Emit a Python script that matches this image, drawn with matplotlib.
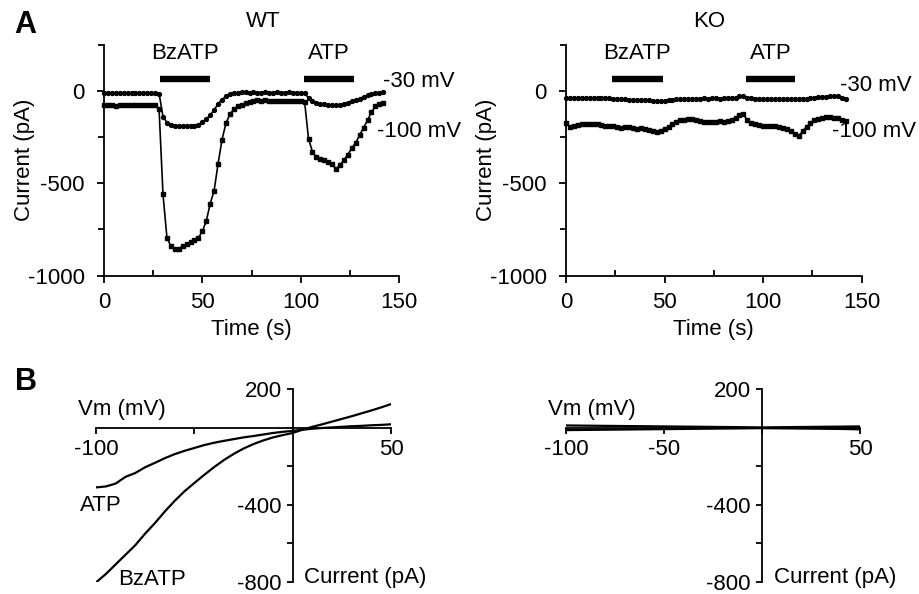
import numpy as np
import matplotlib
matplotlib.use("Agg")
import matplotlib.pyplot as plt
from matplotlib.ticker import MultipleLocator, FixedLocator

plt.rcParams['font.family'] = ['Liberation Sans', 'DejaVu Sans']
plt.rcParams['font.size'] = 16
plt.rcParams['axes.unicode_minus'] = False

# ---- panel A: current vs time (sampled every 2 s) ----
time_s = np.arange(0, 144, 2)

wt_30 = [-12, -12, -12, -12, -12, -12, -12, -12, -12, -12,
         -12, -12, -12, -12, -15, -140, -172, -185, -190, -190,
         -190, -188, -189, -188, -185, -170, -155, -130, -105, -70,
         -48, -30, -20, -14, -10, -9, -9, -10, -9, -10,
         -10, -9, -10, -10, -9, -10, -10, -9, -10, -10,
         -10, -12, -40, -55, -65, -70, -73, -76, -78, -78,
         -76, -72, -66, -58, -50, -42, -33, -25, -18, -14,
         -10, -8]
wt_100 = [-75, -78, -76, -80, -78, -76, -79, -77, -78, -76,
          -78, -76, -78, -76, -100, -560, -795, -840, -858, -855,
          -840, -828, -818, -805, -795, -760, -705, -610, -540, -395,
          -265, -176, -128, -100, -84, -75, -65, -60, -55, -52,
          -55, -52, -56, -54, -55, -56, -53, -55, -57, -54,
          -56, -60, -260, -330, -360, -368, -375, -385, -395, -425,
          -400, -375, -345, -310, -280, -240, -200, -160, -115, -85,
          -72, -68]
ko_30 = [-38, -37, -39, -38, -38, -37, -39, -38, -37, -38,
         -38, -40, -42, -44, -46, -47, -48, -49, -50, -50,
         -51, -52, -55, -57, -58, -56, -52, -48, -45, -44,
         -44, -43, -44, -42, -43, -41, -42, -41, -41, -42,
         -41, -40, -39, -37, -30, -30, -37, -41, -42, -43,
         -44, -45, -46, -45, -46, -47, -46, -45, -46, -47,
         -45, -43, -40, -38, -35, -33, -32, -30, -29, -30,
         -38, -42]
ko_100 = [-176, -194, -188, -185, -182, -180, -178, -182, -180, -184,
          -188, -190, -192, -196, -200, -194, -196, -200, -205, -203,
          -205, -210, -220, -222, -215, -205, -194, -180, -170, -160,
          -158, -155, -153, -160, -165, -167, -170, -168, -167, -165,
          -167, -165, -158, -145, -131, -128, -160, -175, -182, -185,
          -188, -190, -189, -192, -195, -200, -205, -215, -232, -245,
          -220, -195, -175, -160, -155, -150, -140, -142, -145, -148,
          -160, -165]

# drug application bars (start, end) in s
wt_bars = {'BzATP': (28.5, 53.9), 'ATP': (101.7, 127.0)}
ko_bars = {'BzATP': (23.2, 49.0), 'ATP': (91.3, 116.4)}

# ---- panel B: I-V relations ----
vm_wt = np.arange(-100, 55, 5)
wt_atp_iv = [-310, -305, -290, -255, -235, -205, -182, -158, -137, -120, -105,
             -90, -78, -68, -59, -50, -43, -35, -27, -21, -16,
             -10, -5, -1, 2, 5, 8, 10, 13, 15, 18]
wt_bz_iv = [-804, -760, -710, -660, -610, -550, -495, -435, -380, -330, -287,
            -245, -205, -168, -136, -108, -85, -66, -50, -38, -27,
            -10, 5, 18, 32, 46, 60, 75, 90, 106, 123]
vm_ko = np.arange(-100, 60, 10)
ko_atp_iv = [12, 11, 10, 9, 8, 7, 6, 5, 4, 3, 2, 3, 4, 5, 6, 7]
ko_bz_iv = [-12, -11, -10, -9, -8, -7, -6, -5, -4, -3, -2, -3, -4, -5, -6, -8]

W, H = 919, 594
fig = plt.figure(figsize=(W / 100, H / 100), dpi=100)


def px_axes(x0, x1, ytop, ybot):
    return fig.add_axes([x0 / W, 1 - ybot / H, (x1 - x0) / W, (ybot - ytop) / H])


def time_panel(ax, i30, i100, bars, title, title_x, lab30, lab100):
    ax.plot(time_s, i30, color='black', lw=1.2, marker='o', ms=2.8, clip_on=False)
    ax.plot(time_s, i100, color='black', lw=1.2, marker='s', ms=3.0, clip_on=False)
    for name, (t0, t1) in bars.items():
        ax.plot([t0, t1], [63, 63], color='black', lw=4.6, solid_capstyle='butt', clip_on=False)
        ax.text((t0 + t1) / 2, 202, name, ha='center', va='center', clip_on=False)
    ax.text(lab30[0], lab30[1], '-30 mV', ha='left', va='center', clip_on=False)
    ax.text(lab100[0], lab100[1], '-100 mV', ha='left', va='center', clip_on=False)
    ax.text(title_x, 375, title, ha='center', va='center', clip_on=False)
    ax.set_xlim(0, 150)
    ax.set_ylim(-1000, 250)
    ax.xaxis.set_major_locator(MultipleLocator(50))
    ax.xaxis.set_minor_locator(MultipleLocator(25))
    ax.set_yticks([0, -500, -1000])
    ax.yaxis.set_minor_locator(FixedLocator([250, -250, -750]))
    for s in ['top', 'right']:
        ax.spines[s].set_visible(False)
    for s in ['left', 'bottom']:
        ax.spines[s].set_linewidth(1.3)
    ax.tick_params(which='major', length=5, width=1.3)
    ax.tick_params(axis='y', which='major', pad=9)
    ax.tick_params(axis='x', which='major', pad=7)
    ax.tick_params(axis='x', which='minor', direction='in', length=4, width=1.3)
    ax.tick_params(axis='y', which='minor', length=4, width=1.3)
    ax.set_xlabel('Time (s)', labelpad=4)
    ax.set_ylabel('Current (pA)')
    ax.yaxis.set_label_coords(-0.235, 0.5)


def iv_panel(ax, vm, atp, bz, xlabels):
    ax.plot(vm, atp, color='black', lw=1.6)
    ax.plot(vm, bz, color='black', lw=1.6)
    ax.set_xlim(-100, 50)
    ax.set_ylim(-800, 200)
    ax.spines['left'].set_position(('data', 0))
    ax.spines['bottom'].set_position(('data', 0))
    for s in ['top', 'right']:
        ax.spines[s].set_visible(False)
    for s in ['left', 'bottom']:
        ax.spines[s].set_linewidth(1.3)
    ax.set_xticks([-100, -50, 0, 50])
    ax.set_xticklabels(xlabels)
    ax.set_yticks([200, 0, -200, -400, -600, -800])
    ax.set_yticklabels(['200', '', '', '-400', '', '-800'])
    ax.tick_params(length=4, width=1.3, pad=4)
    ax.text(6, -780, 'Current (pA)', ha='left', va='center')
    ax.text(-87, 96, 'Vm (mV)', ha='center', va='center')


ax1 = px_axes(104, 399, 44.5, 275.7)
time_panel(ax1, wt_30, wt_100, wt_bars, 'WT', 80.8, (141.8, 52), (138.8, -223))
ax2 = px_axes(566, 861.7, 44.5, 275.7)
time_panel(ax2, ko_30, ko_100, ko_bars, 'KO', 72.7, (138.8, 31), (135.0, -221))

ax3 = px_axes(96, 391, 389.3, 581.7)
iv_panel(ax3, vm_wt, wt_atp_iv, wt_bz_iv, ['-100', '', '', '50'])
ax3.text(-97.5, -405, 'ATP', ha='center', va='center')
ax3.text(-71.5, -790, 'BzATP', ha='center', va='center')
ax4 = px_axes(566, 860, 389.3, 581.7)
iv_panel(ax4, vm_ko, ko_atp_iv, ko_bz_iv, ['-100', '-50', '', '50'])

fig.text(25 / W, 1 - 25 / H, 'A', fontsize=22, fontweight='bold', ha='center', va='center')
fig.text(26 / W, 1 - 382 / H, 'B', fontsize=22, fontweight='bold', ha='center', va='center')

fig.savefig('out.png', dpi=100)
